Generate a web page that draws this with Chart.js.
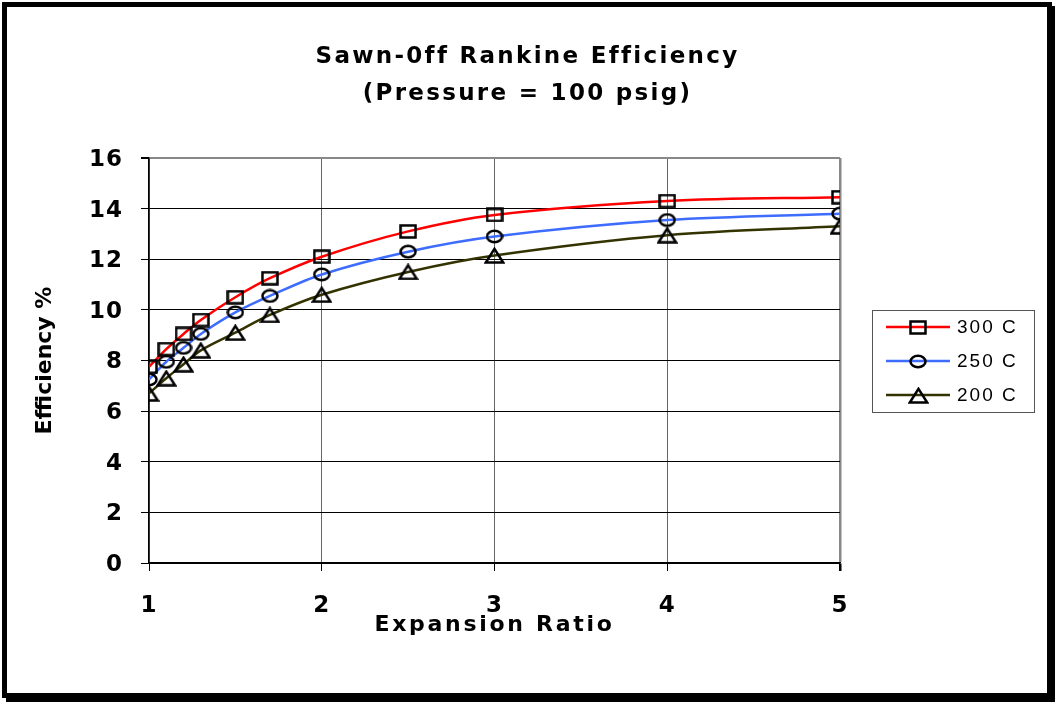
<!DOCTYPE html>
<html>
<head>
<meta charset="utf-8">
<script src="https://cdn.jsdelivr.net/npm/chart.js@4/dist/chart.umd.min.js"></script>
<style>
html, body { margin: 0; padding: 0; background: #fff; }
#frame { position: absolute; left: 2px; top: 2px; width: 1050px; height: 696px; box-sizing: border-box;
         border: 5px solid #000; box-shadow: 4px 4px 0 #000; background: #fff; }
#wrap { position: absolute; left: 0; top: 0; width: 1055px; height: 702px; }
</style>
</head>
<body>
<div id="frame"></div>
<div id="wrap"><canvas id="c" width="1055" height="702"></canvas></div>
<script>
// expansion ratio (x) and efficiency % per superheat temperature
var xRatio = [1, 1.1, 1.2, 1.3, 1.5, 1.7, 2, 2.5, 3, 4, 5];
var eff300 = [7.75, 8.45, 9.05, 9.6, 10.5, 11.25, 12.1, 13.1, 13.75, 14.3, 14.45];
var eff250 = [7.25, 7.95, 8.5, 9.05, 9.9, 10.55, 11.4, 12.3, 12.9, 13.55, 13.8];
var eff200 = [6.7, 7.3, 7.85, 8.4, 9.1, 9.8, 10.6, 11.5, 12.15, 12.95, 13.3];
var seriesNames = ['300 C', '250 C', '200 C'];
var titleLines = ['Sawn-0ff Rankine Efficiency', '(Pressure = 100 psig)'];

var BOLD = '"DejaVu Sans", "Liberation Sans", Arial, sans-serif';
Chart.defaults.font.family = BOLD;
Chart.defaults.color = '#000';

// hollow marker glyphs (slightly wide, like the original)
function marker(shape) {
  var c = document.createElement('canvas');
  var w = shape == 'tri' ? 21 : 18, h = shape == 'tri' ? 17 : 15;
  c.width = w; c.height = h;
  var g = c.getContext('2d');
  g.strokeStyle = '#000'; g.lineWidth = 2.5;
  g.beginPath();
  if (shape == 'square') g.rect(1.5, 1.5, w - 3, h - 3);
  else if (shape == 'circle') g.ellipse(w / 2, h / 2, w / 2 - 1.5, h / 2 - 1.7, 0, 0, Math.PI * 2);
  else { g.moveTo(w / 2, 1.8); g.lineTo(w - 1.8, h - 1.5); g.lineTo(1.8, h - 1.5); g.closePath(); }
  g.stroke();
  return c;
}

function pts(ys) {
  return xRatio.map(function (x, i) { return { x: x, y: ys[i] }; });
}

function series(label, ys, color, shape) {
  return {
    label: label, data: pts(ys), borderColor: color, borderWidth: 2.5,
    pointStyle: marker(shape), pointRadius: 8, tension: 0.33, fill: false
  };
}

// give one scale method its own letter spacing
function spaced(s, name, px) {
  if (s['_sp_' + name]) return;
  var orig = s[name];
  s[name] = function (a) {
    var old = this.ctx.letterSpacing;
    this.ctx.letterSpacing = px;
    orig.call(this, a);
    this.ctx.letterSpacing = old;
  };
  s['_sp_' + name] = true;
}

var spacing = {
  id: 'spacing',
  beforeDraw: function (chart) { chart.ctx.letterSpacing = '2.3px'; },
  afterDraw: function (chart) { chart.ctx.letterSpacing = '0px'; }
};

var legendBox = {
  id: 'legendBox',
  afterDraw: function (chart) {
    var ctx = chart.ctx, a = chart.chartArea;
    var w = 162, h = 102;
    var left = a.right + 32, top = Math.round((a.top + a.bottom) / 2 - h / 2);
    ctx.save();
    ctx.letterSpacing = '2px';
    ctx.fillStyle = '#fff';
    ctx.fillRect(left, top, w, h);
    ctx.strokeStyle = '#555'; ctx.lineWidth = 1;
    ctx.strokeRect(left + 0.5, top + 0.5, w, h);
    chart.data.datasets.forEach(function (ds, i) {
      var y = top + 17 + i * 34;
      ctx.strokeStyle = ds.borderColor; ctx.lineWidth = ds.borderWidth;
      ctx.beginPath(); ctx.moveTo(left + 14, y); ctx.lineTo(left + 78, y); ctx.stroke();
      var m = ds.pointStyle;
      ctx.drawImage(m, Math.round(left + 46 - m.width / 2), Math.round(y - m.height / 2));
      ctx.fillStyle = '#000';
      ctx.font = '19px "Liberation Sans", Arial, sans-serif';
      ctx.textAlign = 'left'; ctx.textBaseline = 'middle';
      ctx.fillText(ds.label, left + 85, y + 1);
    });
    ctx.restore();
  }
};

new Chart(document.getElementById('c'), {
  type: 'line',
  data: {
    datasets: [
      series(seriesNames[0], eff300, '#ff0000', 'square'),
      series(seriesNames[1], eff250, '#3d6cff', 'circle'),
      series(seriesNames[2], eff200, '#333300', 'tri')
    ]
  },
  options: {
    responsive: false,
    animation: false,
    layout: { padding: 0 },
    plugins: {
      legend: { display: false },
      tooltip: { enabled: false },
      title: {
        display: true, text: titleLines, color: '#000',
        font: { size: 23, weight: 'bold', lineHeight: 37 / 23 },
        padding: { top: 38.5, bottom: 45.5 }
      }
    },
    scales: {
      x: {
        type: 'linear', min: 1, max: 5,
        ticks: { stepSize: 1, padding: 21, font: { size: 23, weight: 'bold' }, color: '#000' },
        grid: {
          color: function (c) { return c.tick && c.tick.value == 5 ? '#888' : '#666'; },
          lineWidth: function (c) { return c.tick && c.tick.value == 5 ? 2.5 : 1; },
          tickLength: 8, tickColor: '#000'
        },
        border: { color: '#000', width: 1.5 },
        title: { display: true, text: 'Expansion Ratio', color: '#000',
                 font: { size: 22, weight: 'bold' }, padding: { top: 0, bottom: 64 } },
        afterFit: function (s) {
          s.height = 139;
          spaced(s, 'drawLabels', '1px');
          spaced(s, 'drawTitle', '2.7px');
        }
      },
      y: {
        min: 0, max: 16,
        ticks: { stepSize: 2, padding: 18, labelOffset: 2, font: { size: 23, weight: 'bold' }, color: '#000' },
        grid: {
          color: function (c) { return c.tick && c.tick.value == 16 ? '#888' : '#000'; },
          lineWidth: function (c) { return c.tick && c.tick.value == 16 ? 2 : 1; },
          tickLength: 8, tickColor: '#000'
        },
        border: { color: '#000', width: 1.5 },
        title: { display: true, text: 'Efficiency %', color: '#000',
                 font: { size: 22, weight: 'bold' }, padding: { top: 32, bottom: 0 } },
        afterFit: function (s) {
          s.width = 149;
          spaced(s, 'drawLabels', '1px');
          spaced(s, 'drawTitle', '0px');
        }
      },
      // empty right axis only to hold room for the legend
      side: {
        position: 'right', display: true,
        grid: { display: false }, border: { display: false }, ticks: { display: false },
        afterFit: function (s) { s.width = 215; }
      }
    }
  },
  plugins: [spacing, legendBox]
});
</script>
</body>
</html>
